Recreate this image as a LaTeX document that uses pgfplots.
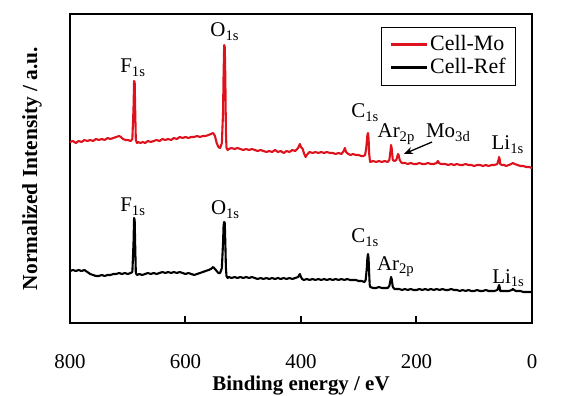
\documentclass[border=0pt]{standalone}
\usepackage{fontspec}
\setmainfont{Liberation Serif}
\usepackage{pgfplots}
\pgfplotsset{compat=1.18}
\usetikzlibrary{arrows.meta}
\definecolor{cmo}{RGB}{222,18,28}
\begin{document}
\fontsize{21}{25}\selectfont
\begin{tikzpicture}
\path[use as bounding box] (-70bp,-73bp) rectangle (497bp,323bp);
\begin{axis}[at={(0,0)}, anchor=south west, scale only axis,
  width=462bp, height=309bp,
  x dir=reverse, xmin=0, xmax=800, ymin=0, ymax=309,
  xtick={0,200,400,600,800}, ytick=\empty, xtick pos=bottom,
  tick align=inside, major tick length=7bp,
  axis line style={line width=2.2bp},
  every tick/.style={black, line width=2bp},
  /pgf/number format/assume math mode=true,
  xticklabel style={anchor=base, yshift=-45bp, font=\fontsize{21}{25}\selectfont},
  xlabel={Binding energy / eV},
  xlabel style={at={(axis description cs:0.5,-0.203)}, anchor=center, font=\bfseries\fontsize{21}{25}\selectfont},
  ylabel={Normalized Intensity / a.u.},
  ylabel style={at={(axis description cs:-0.082,0.5)}, anchor=center, font=\bfseries\fontsize{21.5}{25}\selectfont},
  legend style={at={(0.965,0.958)}, anchor=north east, draw=black,
    font=\fontsize{22}{26}\selectfont, inner xsep=8bp, inner ysep=6bp, row sep=1bp, cells={anchor=west}},
  legend image code/.code={\draw[#1, line width=2.6bp] (0bp,0bp) -- (36bp,0bp);},
  clip=false
]
\addplot[cmo, line width=2.1bp, line join=round] coordinates {
(800,181)(795,182)(790,180)(785,182)(780,181)(775,183)(770,182)(765,183)(760,182)(755,184)
(750,183)(745,184)(740,183)(735,185)(730,184)(725,185)(720,186)(715,187)(712,186)(708,184)
(704,183)(700,183)(695,182)(692,184)(690,215)(689,242)(688,241)(687,210)(686,183)(684,180)
(682,181)(678,180)(674,181)(670,180)(665,182)(660,181)(655,182)(650,183)(645,182)(640,184)
(635,183)(630,184)(625,183)(620,185)(615,184)(610,186)(605,185)(600,186)(595,185)(590,186)
(585,186)(580,187)(575,186)(570,187)(565,187)(560,188)(556,189)(552,190)(549,187)(546,180)
(543,176)(540,175)(537,180)(535,210)(534,250)(533,278)(532,276)(531,245)(530,190)(529,175)
(527,173)(525,174)(520,175)(515,174)(510,175)(505,174)(500,173)(495,174)(490,173)(485,174)
(480,173)(475,172)(470,173)(465,172)(460,171)(455,172)(450,171)(445,173)(440,171)(435,172)
(430,170)(425,172)(420,171)(415,173)(410,172)(405,175)(402,179)(400,176)(397,174)(395,170)
(392,166)(390,168)(385,171)(380,170)(375,171)(370,170)(365,171)(360,170)(355,171)(350,170)
(345,170)(340,169)(335,170)(330,169)(326,172)(324,175)(322,171)(318,169)(314,168)(310,169)
(305,168)(300,168)(296,167)(292,167)(289,168)(287,175)(285,188)(284,190)(283,185)(282,170)
(281,164)(280,161)(275,162)(270,161)(265,162)(260,161)(255,162)(250,161)(247,163)(245,172)
(244,178)(243,175)(241,163)(238,162)(235,163)(233,167)(232,169)(231,168)(229,163)(227,161)
(225,160)(220,160)(215,159)(210,160)(205,159)(200,159)(195,160)(190,159)(185,159)(180,160)
(175,159)(170,159)(165,160)(163,162)(161,160)(158,159)(155,159)(150,159)(145,158)(140,159)
(135,158)(130,159)(125,158)(120,158)(115,159)(110,158)(105,158)(100,157)(95,158)(90,158)
(85,157)(80,158)(75,157)(70,158)(65,158)(60,159)(58,163)(57,166)(56,164)(55,159)
(52,158)(48,158)(45,157)(40,158)(36,159)(33,160)(30,159)(25,158)(20,157)(15,157)
(10,156)(5,156)(0,155)};
\addlegendentry{Cell-Mo}
\addplot[black, line width=2.1bp, line join=round] coordinates {
(800,52)(795,53)(790,52)(785,53)(780,52)(775,53)(770,51)(765,49)(760,48)(755,47)
(750,47)(745,48)(740,47)(735,48)(730,48)(725,49)(720,49)(715,50)(710,49)(705,50)
(700,49)(695,50)(692,51)(690,80)(689,105)(688,103)(687,75)(686,50)(684,48)(680,49)
(675,48)(670,49)(665,50)(660,49)(655,50)(650,49)(645,50)(640,51)(635,50)(630,51)
(625,50)(620,51)(615,50)(610,51)(605,50)(600,49)(595,50)(590,49)(585,48)(580,49)
(575,50)(570,51)(565,52)(560,53)(556,54)(552,56)(549,54)(546,52)(543,50)(540,50)
(537,55)(535,80)(534,98)(533,101)(532,100)(531,80)(530,55)(529,47)(527,45)(525,46)
(520,45)(515,46)(510,45)(505,46)(500,45)(495,46)(490,45)(485,46)(480,45)(475,44)
(470,45)(465,44)(460,45)(455,44)(450,45)(445,44)(440,45)(435,44)(430,45)(425,44)
(420,45)(415,44)(410,45)(405,46)(402,49)(400,46)(398,44)(395,43)(390,44)(385,43)
(380,44)(375,43)(370,44)(365,43)(360,44)(355,43)(350,44)(345,43)(340,44)(335,43)
(330,44)(325,43)(320,44)(315,43)(310,43)(305,43)(300,42)(295,42)(290,41)(288,43)
(286,55)(285,65)(284,69)(283,65)(282,50)(281,38)(280,36)(275,35)(270,35)(265,36)
(260,35)(255,35)(250,35)(247,37)(245,43)(244,46)(243,44)(241,36)(238,34)(235,34)
(230,34)(225,33)(220,34)(215,33)(210,34)(205,33)(200,33)(195,34)(190,33)(185,34)
(180,33)(175,34)(170,33)(165,34)(160,33)(155,34)(150,33)(145,33)(140,34)(135,33)
(130,33)(125,32)(120,33)(115,32)(110,33)(105,32)(100,32)(95,33)(90,32)(85,32)
(80,33)(75,32)(70,32)(65,32)(60,33)(58,36)(57,38)(56,36)(55,32)(50,32)
(45,32)(40,32)(35,33)(33,34)(31,33)(28,32)(25,32)(20,32)(15,31)(10,31)
(5,31)(0,31)};
\addlegendentry{Cell-Ref}
% peak labels, Cell-Mo
\node[anchor=base] at (axis cs:691,250) {F\textsubscript{1s}};
\node[anchor=base] at (axis cs:532,286) {O\textsubscript{1s}};
\node[anchor=base] at (axis cs:289,205) {C\textsubscript{1s}};
\node[anchor=base] at (axis cs:235,185) {Ar\textsubscript{2p}};
\node[anchor=base] at (axis cs:145,185) {Mo\textsubscript{3d}};
\node[anchor=base] at (axis cs:42,173) {Li\textsubscript{1s}};
\draw[-{Stealth[length=9bp,width=7bp]}, line width=1.3bp] (axis cs:173,181) -- (axis cs:222,169);
% peak labels, Cell-Ref
\node[anchor=base] at (axis cs:691,111) {F\textsubscript{1s}};
\node[anchor=base] at (axis cs:531,108) {O\textsubscript{1s}};
\node[anchor=base] at (axis cs:289,80) {C\textsubscript{1s}};
\node[anchor=base] at (axis cs:236,53) {Ar\textsubscript{2p}};
\node[anchor=base] at (axis cs:41,40) {Li\textsubscript{1s}};
\end{axis}
\end{tikzpicture}
\end{document}
